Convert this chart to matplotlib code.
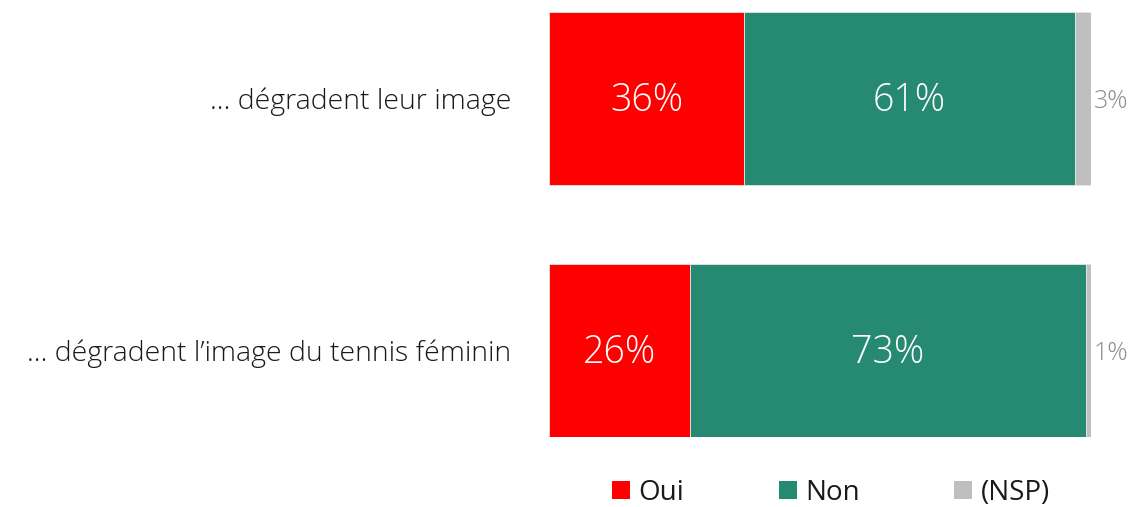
import matplotlib.pyplot as plt
from matplotlib.patches import Patch

# data
categories = ['… dégradent leur image', '… dégradent l’image du tennis féminin']
oui = [36, 26]
non = [61, 73]
nsp = [3, 1]
series_names = ['Oui', 'Non', '(NSP)']
colors = ['#ff0000', '#268a72', '#bfbfbf']

plt.rcParams['font.family'] = ['Open Sans', 'DejaVu Sans']

fig = plt.figure(figsize=(11.37, 5.07), dpi=100)
ax = fig.add_axes([549 / 1137, 1 - 437 / 507, (1091 - 549) / 1137, (437 - 12) / 507])

h = 173 / 252
y = list(range(len(categories)))
left = [0] * len(categories)
for vals, c in zip([oui, non, nsp], colors):
    ax.barh(y, vals, left=left, height=h, color=c, edgecolor='#e6e6e6', linewidth=0.6)
    left = [l + v for l, v in zip(left, vals)]

# labels inside bars
for i in y:
    ax.text(oui[i] / 2, i + 0.01, f'{oui[i]}%', ha='center', va='center',
            color='white', fontsize=27, fontweight='light')
    ax.text(oui[i] + non[i] / 2, i + 0.01, f'{non[i]}%', ha='center', va='center',
            color='white', fontsize=27, fontweight='light')
    ax.text(100.5, i + 0.01, f'{nsp[i]}%', ha='left', va='center',
            color='#8c8c8c', fontsize=18, fontweight='light')

ax.set_xlim(0, 100)
ax.set_ylim(len(categories) - 1 + h / 2, -h / 2)
ax.set_xticks([])
ax.set_yticks(y)
ax.set_yticklabels(categories, fontsize=20.5, fontweight='light', color='#1a1a1a')
ax.tick_params(axis='y', length=0, pad=27)
for s in ax.spines.values():
    s.set_visible(False)

handles = [Patch(facecolor=c, edgecolor='none') for c in colors]
fig.legend(handles, series_names, loc='center', bbox_to_anchor=(0.731, 0.028),
           ncol=3, frameon=False, fontsize=20, handlelength=0.65, handleheight=0.65,
           handletextpad=0.3, columnspacing=3.4, labelcolor='#1a1a1a')

fig.savefig('out.png', dpi=100)
